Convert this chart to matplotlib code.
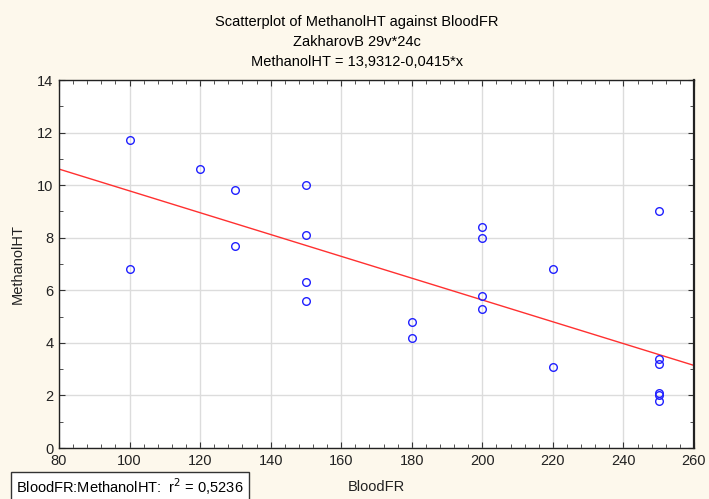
import numpy as np
import matplotlib.pyplot as plt
from matplotlib.ticker import MultipleLocator

blood_fr = [100, 100, 120, 130, 130, 150, 150, 150, 150, 180, 180,
            200, 200, 200, 200, 220, 220, 250, 250, 250, 250, 250, 250]
methanol_ht = [11.7, 6.8, 10.6, 9.8, 7.7, 10.0, 8.1, 6.3, 5.6, 4.8, 4.2,
               8.4, 8.0, 5.8, 5.3, 6.8, 3.1, 9.0, 3.4, 3.2, 2.1, 2.0, 1.8]
intercept = 13.9312
slope = -0.0415
r2 = 0.5236

plt.rcParams['font.family'] = ['Liberation Sans', 'DejaVu Sans']

bg = '#fdf8ec'
fig = plt.figure(figsize=(7.09, 4.99), dpi=100, facecolor=bg)
ax = fig.add_axes([59 / 709, 1 - 448 / 499, 635 / 709, 368 / 499])
ax.set_facecolor('white')

# regression line
xl = np.array([80, 260])
ax.plot(xl, intercept + slope * xl, color='#ff3030', lw=1.0, zorder=2)

ax.plot(blood_fr, methanol_ht, 'o', mfc='none', mec='#2020ff', ms=5.5, mew=1.0, zorder=3)

ax.set_xlim(80, 260)
ax.set_ylim(0, 14)
ax.xaxis.set_major_locator(MultipleLocator(20))
ax.xaxis.set_minor_locator(MultipleLocator(4))
ax.yaxis.set_major_locator(MultipleLocator(2))
ax.yaxis.set_minor_locator(MultipleLocator(1))
ax.grid(True, which='major', color='#dcdcdc', lw=1.0, zorder=0)
ax.set_axisbelow(True)
ax.tick_params(which='both', direction='in', top=True, right=True,
               color='#333333', labelsize=10.5, pad=4, labelcolor='#222222')
ax.tick_params(which='major', length=4)
ax.tick_params(which='minor', length=3)
for s in ax.spines.values():
    s.set_color('#222222')
    s.set_linewidth(1.0)
ax.spines['right'].set_linewidth(1.6)

ax.set_xlabel('BloodFR', fontsize=10.5, labelpad=9, color='#222222')
ax.set_ylabel('MethanolHT', fontsize=10.5, labelpad=9, color='#222222')

fig.text(0.503, 1 - 22 / 499, 'Scatterplot of MethanolHT against BloodFR', ha='center', va='center', fontsize=10.5)
fig.text(0.503, 1 - 42 / 499, 'ZakharovB 29v*24c', ha='center', va='center', fontsize=10.5)
fig.text(0.503, 1 - 62 / 499, 'MethanolHT = 13,9312-0,0415*x', ha='center', va='center', fontsize=10.5)

fig.text(16 / 709, 1 - 487 / 499, 'BloodFR:MethanolHT:  r$^2$ = ' + f'{r2:.4f}'.replace('.', ','),
         ha='left', va='center', fontsize=10.5,
         bbox=dict(boxstyle='square,pad=0.35', fc='white', ec='#333333', lw=1.0))

fig.savefig('out.png', dpi=100, facecolor=bg)
